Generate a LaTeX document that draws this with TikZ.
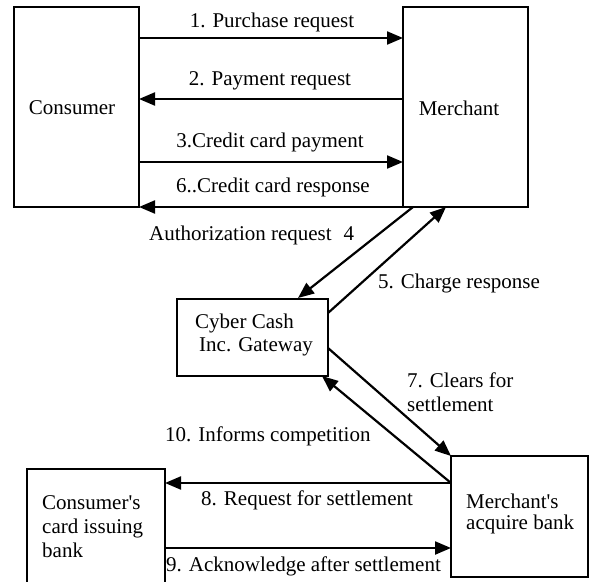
\documentclass[tikz,border=0pt]{standalone}
\usepackage{fontspec}
\setmainfont{Liberation Serif}
\usetikzlibrary{arrows.meta,calc}
\begin{document}
\begin{tikzpicture}[x=1pt,y=-1pt,
  font=\fontsize{21}{24}\selectfont,
  box/.style={draw, line width=2.4pt, inner sep=0pt, outer sep=0pt},
  arr/.style={line width=2.2pt, -{Triangle[length=16pt,width=13pt]}},
  lbl/.style={inner sep=0pt}]
\useasboundingbox (0,0) rectangle (589,581);
% boxes
\node[box, minimum width=125pt, minimum height=200pt] (cons) at (76.5,107) {};
\node[lbl] (consT) at (72,108) {Consumer};
\node[box, minimum width=125pt, minimum height=200pt] (merch) at (465.5,107) {};
\node[lbl] (merchT) at (459,108) {Merchant};
\node[box, minimum width=151pt, minimum height=77pt] (gw) at (252.5,337.5) {};
\node[lbl, anchor=west] (gwT1) at (195,323) {Cyber Cash};
\node[lbl, anchor=west] (gwT2) at (199,347) {Inc. Gateway};
\node[box, minimum width=137pt, minimum height=121pt] (mb) at (519.5,516.5) {};
\node[lbl, anchor=west, align=left, font=\fontsize{21}{21}\selectfont] (mbT) at (466,514)
  {Merchant\textquotesingle s\\acquire bank};
\node[box, minimum width=138pt, minimum height=125pt] (cb) at (96,531.5) {};
\node[lbl, anchor=west, align=left] (cbT) at (42,527)
  {Consumer\textquotesingle s\\card issuing\\bank};
% top arrows
\draw[arr] ($(cons.north east)+(0,31)$) -- ($(merch.north west)+(0,31)$);
\draw[arr] ($(merch.north west)+(0,92)$) -- ($(cons.north east)+(0,92)$);
\draw[arr] ($(cons.north east)+(0,155)$) -- ($(merch.north west)+(0,155)$);
\draw[arr] (merch.south west) -- (cons.south east);
\node[lbl] (l1) at (272,22) {1. Purchase request};
\node[lbl] (l2) at (270,81) {2. Payment request};
\node[lbl] (l3) at (270,142) {3.Credit card payment};
\node[lbl] (l6) at (273,187) {6..Credit card response};
% merchant - gateway
\draw[arr] ($(merch.south west)+(10,0)$) -- ($(gw.north west)+(121,-1)$);
\draw[arr] ($(gw.north east)+(0,14)$) -- ($(merch.south west)+(43,0)$);
\node[lbl, anchor=west] (l4) at (149,235) {Authorization request\hspace{12pt}4};
\node[lbl, anchor=west] (l5) at (378,283) {5. Charge response};
% gateway - merchant bank
\draw[arr] ($(gw.north east)+(0,49)$) -- (mb.north west);
\draw[arr] ($(mb.north west)+(0,27)$) -- ($(gw.south east)+(-6,0)$);
\node[lbl, anchor=west, align=left] (l7) at (407,392) {7. Clears for\\settlement};
\node[lbl, anchor=west] (l10) at (165,436) {10. Informs competition};
% banks
\draw[arr] ($(mb.north west)+(0,27)$) -- ($(cb.north east)+(0,14)$);
\draw[arr] ($(cb.north east)+(0,79)$) -- ($(mb.north west)+(0,92)$);
\node[lbl, anchor=west] (l8) at (201,500) {8. Request for settlement};
\node[lbl, anchor=west] (l9) at (166,566) {9. Acknowledge after settlement};
\end{tikzpicture}
\end{document}
